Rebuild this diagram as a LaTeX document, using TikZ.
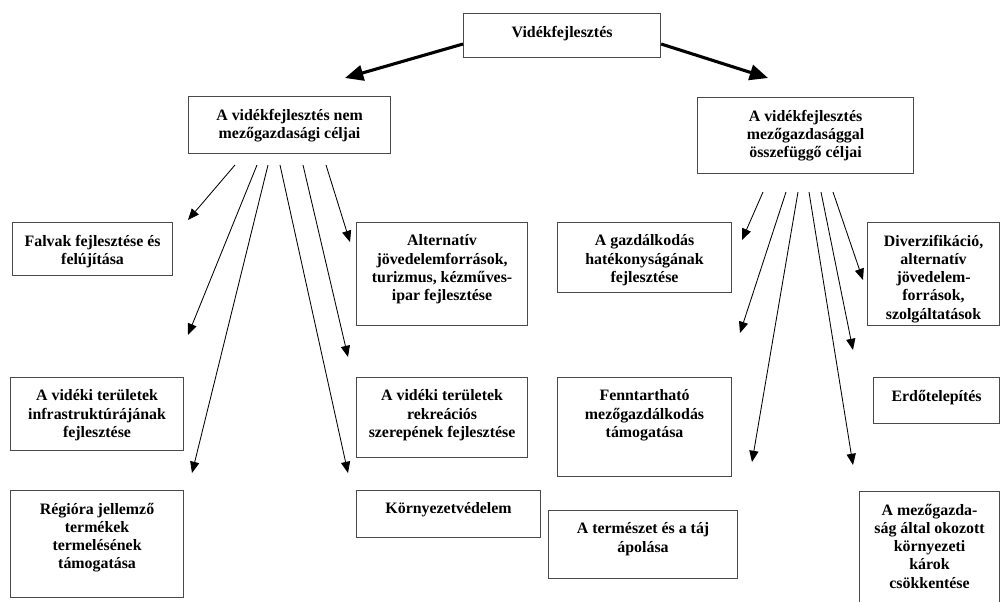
\documentclass[tikz,border=0pt]{standalone}
\usepackage{fontspec}
\setmainfont{Liberation Serif}
\usepackage{tikz}
\usetikzlibrary{arrows.meta,positioning,calc}
\definecolor{boxrule}{HTML}{4A4A4A}

\begin{document}
\begin{tikzpicture}[x=0.025cm, y=-0.025cm,
    goal/.style={draw=boxrule, line width=0.8pt, anchor=north west, inner sep=0pt},
    goaltext/.style={anchor=north, align=center, inner sep=0pt,
                     font=\bfseries\fontsize{11.3}{13}\selectfont},
    fan/.style={-{Triangle[length=8pt,width=6.5pt]}, line width=0.6pt},
    main/.style={-{Triangle[length=13pt,width=11pt]}, line width=2.2pt}]
  \useasboundingbox (0,0) rectangle (1001,601);
  % boxes: name/x/y/width/height/text
  \foreach \n/\x/\y/\w/\h/\t in {
      top/463/13/197/44/{Vidékfejlesztés},
      nemmezo/188/96/202/57/{A vidékfejlesztés nem\\mezőgazdasági céljai},
      mezo/697/97/216/76/{A vidékfejlesztés\\mezőgazdasággal\\összefüggő céljai},
      falvak/12/222/160/53/{Falvak fejlesztése és\\felújítása},
      infra/10/377/173/73/{A vidéki területek\\infrastruktúrájának\\fejlesztése},
      regio/10/490/173/107/{Régióra jellemző\\termékek\\termelésének\\támogatása},
      altern/356/222/171/103/{Alternatív\\jövedelemforrások,\\turizmus, kézműves-\\ipar fejlesztése},
      rekre/356/377/171/80/{A vidéki területek\\rekreációs\\szerepének fejlesztése},
      korny/356/490/184/47/{Környezetvédelem},
      hatek/557/222/174/70/{A gazdálkodás\\hatékonyságának\\fejlesztése},
      fennt/557/377/174/99/{Fenntartható\\mezőgazdálkodás\\támogatása},
      taj/548/510/189/68/{A természet és a táj\\ápolása},
      divers/867/222/132/103/{Diverzifikáció,\\alternatív\\jövedelem-\\források,\\szolgáltatások},
      erdo/873/377/126/46/{Erdőtelepítés},
      karok/859/491/140/130/{A mezőgazda-\\ság által okozott\\környezeti\\károk\\csökkentése}}
  {
    \node[goal, minimum width=\w*0.025cm, minimum height=\h*0.025cm] (\n) at (\x,\y) {};
    \node[goaltext] (\n-t) at ([yshift=-9pt]\n.north) {\t};
  }
  % main split
  \coordinate (lefttip) at (345,78);
  \coordinate (righttip) at (768,78);
  \draw[main] ([yshift=-6pt]top.west) -- (lefttip);
  \draw[main] ([yshift=-6pt]top.east) -- (righttip);
  % fans below the two goal groups
  \foreach \i/\sx/\sy/\tx/\ty in {1/235/165/188/220, 2/257/165/188/335,
      3/268/165/192/473, 4/280/165/348/473, 5/303/165/348/357, 6/326/165/350/242,
      7/763/192/742/240, 8/786/192/740/333, 9/798/192/752/462,
      10/809/192/853/465, 11/821/192/853/350, 12/833/192/863/280}
  {
    \coordinate (s\i) at (\sx,\sy);
    \coordinate (e\i) at (\tx,\ty);
    \draw[fan] (s\i) -- (e\i);
  }
\end{tikzpicture}
\end{document}
